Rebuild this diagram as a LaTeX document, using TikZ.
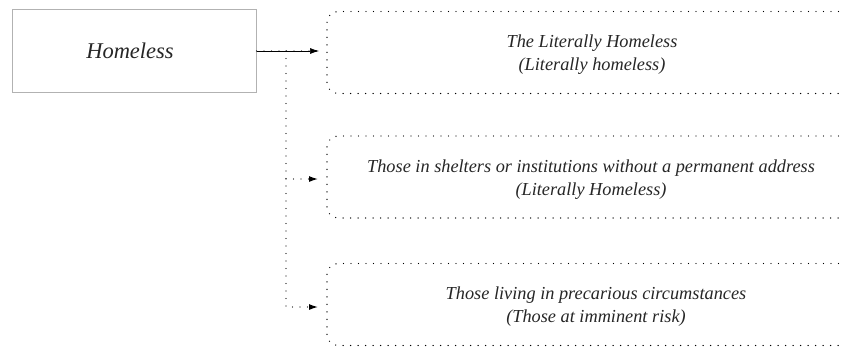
\documentclass[tikz,border=0pt]{standalone}
\usepackage{fontspec}
\setmainfont{Liberation Serif}
\usetikzlibrary{arrows.meta}
\begin{document}
\begin{tikzpicture}[x=1pt,y=-1pt,
  lbl/.style={font=\fontsize{18.3}{23}\selectfont\itshape, align=center, text=black!85},
  catbox/.style={draw, line width=1.4pt, line cap=round, rounded corners=11pt, dash pattern=on 0pt off 7.5pt},
  conn/.style={line width=1.2pt, line cap=round, dash pattern=on 0pt off 7.5pt, -{Latex[length=9pt,width=6pt]}},
]
\useasboundingbox (0,0) rectangle (843,349);
\node[draw=black!30, line width=1pt, minimum width=244pt, minimum height=83pt] (home) at (134,50.5) {};
\node[font=\fontsize{22.5}{26}\selectfont\itshape, text=black!85] (homet) at (130,51) {Homeless};
\node[catbox, minimum width=530pt, minimum height=82pt] (b1) at (592,52.5) {};
\node[catbox, minimum width=530pt, minimum height=82pt] (b2) at (592,177) {};
\node[catbox, minimum width=530pt, minimum height=82pt] (b3) at (592,304.5) {};
\node[lbl] (t1) at (592,55) {The Literally Homeless\\(Literally homeless)};
\node[lbl] (t2) at (591,180) {Those in shelters or institutions without a permanent address\\(Literally Homeless)};
\node[lbl] (t3) at (596,307) {Those living in precarious circumstances\\(Those at imminent risk)};
\coordinate (j) at (286,51);
\coordinate (j2) at (286,179);
\coordinate (e1) at (319,51);
\coordinate (e2) at (318,179);
\coordinate (e3) at (318,307);
\coordinate (c3) at (286,291);
\draw[line width=0.7pt, -{Latex[length=9pt,width=6pt]}] (home.east |- j) -- (e1);
\draw[conn, -] (home.east |- j) -- (e1);
\draw[conn, -] (j) -- (c3);
\draw[conn] (c3) |- (e3);
\draw[conn] (j2) -- (e2);
\end{tikzpicture}
\end{document}
